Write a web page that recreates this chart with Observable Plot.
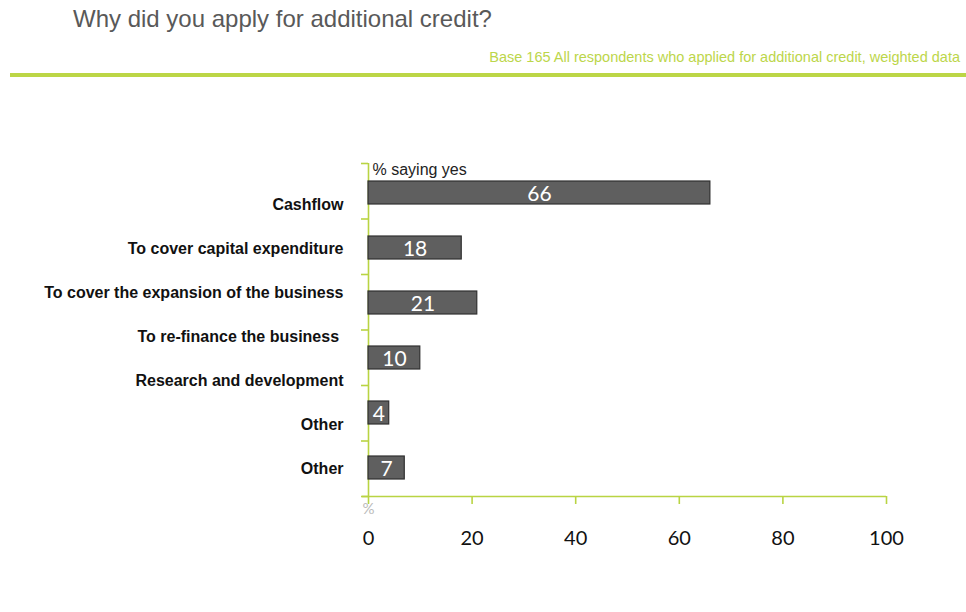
<!DOCTYPE html>
<html>
<head>
<meta charset="utf-8">
<script src="https://cdn.jsdelivr.net/npm/d3@7"></script>
<script src="https://cdn.jsdelivr.net/npm/@observablehq/plot@0.6"></script>
<style>
  html, body { margin: 0; padding: 0; background: #fff; overflow: hidden; }
  #page { position: relative; width: 966px; height: 612px; }
  #header { position: relative; width: 966px; height: 80px; }
  #title { position: absolute; left: 73px; top: 7px; font-family: "Liberation Sans", Arial, sans-serif; font-size: 24px; line-height: 24px; color: #595959; white-space: nowrap; }
  #subtitle { position: absolute; right: 6px; top: 50px; font-family: "Liberation Sans", Arial, sans-serif; font-size: 14.5px; line-height: 14.5px; color: #bcd64a; white-space: nowrap; }
  #rule { position: absolute; left: 10px; top: 73px; width: 956px; height: 4px; background: #bcd646; }
  #chart { position: relative; width: 966px; height: 532px; }
  #chart svg { position: absolute; left: 0; top: 0; }
</style>
</head>
<body>
<div id="page">
  <div id="header">
    <div id="title"></div>
    <div id="subtitle"></div>
    <div id="rule"></div>
  </div>
  <div id="chart"></div>
</div>
<script>
// ---- data ----
const titleText = "Why did you apply for additional credit?";
const subtitleText = "Base 165 All respondents who applied for additional credit, weighted data";
const categories = [
  "Cashflow",
  "To cover capital expenditure",
  "To cover the expansion of the business",
  "To re-finance the business\u00a0",
  "Research and development",
  "Other",
  "Other"
];
const values = [66, 18, 21, 10, 4, 7];
const xTicks = [0, 20, 40, 60, 80, 100];
const seriesLabel = "% saying yes";
const unitLabel = "%";

// ---- styles ----
const GREEN = "#b9d443";
const NUMFONT = 'Lato, "Open Sans", sans-serif';
const ARIAL = '"Liberation Sans", Arial, sans-serif';
const W = 966, H = 532;

document.getElementById("title").textContent = titleText;
document.getElementById("subtitle").textContent = subtitleText;

const rows = values.map((v, i) => ({i, v}));
const chart = document.getElementById("chart");

// Layer 1: axes frame
const axes = Plot.plot({
  width: W, height: H,
  marginLeft: 368, marginRight: 80, marginTop: 83, marginBottom: 116,
  style: {background: "transparent", fontFamily: NUMFONT, fontSize: "20px", color: "#111"},
  x: {domain: [0, 100]},
  y: {domain: [0, values.length]},
  marks: [
    Plot.ruleX([0], {stroke: GREEN, strokeWidth: 1.6}),
    Plot.ruleY([0], {stroke: GREEN, strokeWidth: 1.6, insetLeft: -6}),
    Plot.axisY({ticks: values.length, tickSize: 7, tickFormat: () => "", stroke: GREEN, strokeWidth: 1.6}),
    Plot.axisX({ticks: xTicks, tickSize: 8, tickPadding: 26, stroke: GREEN, strokeWidth: 1.6, tickFormat: d => String(d)}),
    Plot.text([seriesLabel], {frameAnchor: "top-left", lineAnchor: "middle", textAnchor: "start", dx: 4, dy: 6,
      fontFamily: ARIAL, fontSize: 16, fill: "#222"}),
    Plot.text([unitLabel], {frameAnchor: "bottom-left", lineAnchor: "middle", dx: -6, dy: 13,
      fontFamily: NUMFONT, fontSize: 15, fill: "#bbbbbb"})
  ]
});
chart.appendChild(axes);

// Layer 2: bars and value labels
const bars = Plot.plot({
  width: W, height: H,
  marginLeft: 368, marginRight: 80, marginTop: 83, marginBottom: 116,
  style: {background: "transparent", fontFamily: NUMFONT},
  x: {domain: [0, 100], axis: null},
  y: {domain: rows.map(d => d.i), paddingInner: 0.587, paddingOuter: 0.2935, axis: null},
  marks: [
    Plot.barX(rows, {x: "v", y: "i", fill: "#5f5f5f", stroke: "#303030", strokeWidth: 1.2}),
    Plot.text(rows, {x: d => d.v / 2, y: "i", text: d => String(d.v), fill: "#ffffff",
      fontSize: 21, fontFamily: NUMFONT, dy: 1})
  ]
});
chart.appendChild(bars);

// Layer 3: category labels
const labelPlot = Plot.plot({
  width: W, height: H,
  marginLeft: 346, marginRight: 80, marginTop: 122, marginBottom: 143,
  style: {background: "transparent", fontFamily: ARIAL, fontSize: "16px", fontWeight: "bold", color: "#111"},
  y: {type: "point", domain: categories.map((c, i) => i), padding: 0},
  marks: [
    Plot.axisY({tickSize: 0, tickPadding: 3, tickFormat: i => categories[i], fontWeight: "bold", fontSize: 16})
  ]
});
chart.appendChild(labelPlot);
</script>
</body>
</html>
